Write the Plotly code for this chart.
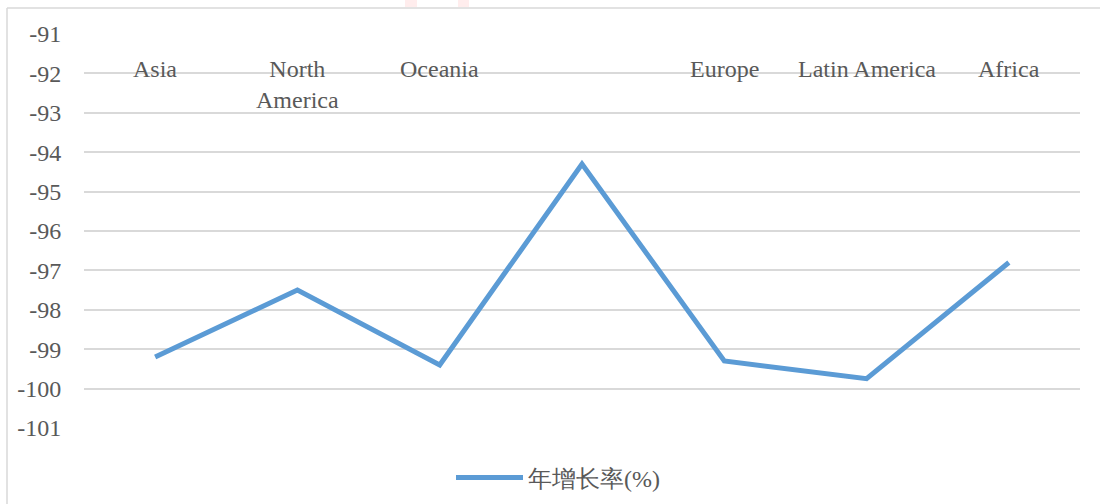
import plotly.graph_objects as go

regions = ["Asia", "North<br>America", "Oceania", " ", "Europe", "Latin America", "Africa"]
growth = [-99.2, -97.5, -99.4, -94.3, -99.3, -99.75, -96.8]
y_ticks = [-91, -92, -93, -94, -95, -96, -97, -98, -99, -100, -101]
y_tick_text = ["-91", "-92", "-93", "-94", "-95", "-96", "-97", "-98", "-99", "-100", "-101"]
series_name = "年增长率(%)"

W, H = 1100, 504
# target plot area in page pixels: x 84..1080, y 34..428
L, R, T, B = 84, 1100 - 1080, 34, 504 - 428
pw, ph = W - L - R, H - T - B
SERIF = "Liberation Serif"


def py(page_y):
    return 1 - (page_y - T) / ph


def px(page_x):
    return (page_x - L) / pw


fig = go.Figure()
fig.add_trace(go.Scatter(
    x=regions, y=growth, mode="lines", name=series_name,
    line=dict(color="#5B9BD5", width=5), showlegend=True,
))

annotations = [
    dict(x=r, y=py(54), xref="x", yref="paper", text=r, showarrow=False,
         xanchor="center", yanchor="top", font=dict(family=SERIF, size=24, color="#595959"))
    for r in regions if r.strip()
]

frame = dict(color="#D9D9D9", width=1.5)
shapes = [
    dict(type="line", xref="paper", yref="paper", x0=px(7), x1=px(1120), y0=py(8), y1=py(8), line=frame),
    dict(type="line", xref="paper", yref="paper", x0=px(7), x1=px(7), y0=py(8), y1=py(530), line=frame),
    dict(type="rect", xref="paper", yref="paper", x0=px(405), x1=px(417), y0=py(7), y1=py(-5),
         line=dict(width=0), fillcolor="rgba(255,0,0,0.07)"),
    dict(type="rect", xref="paper", yref="paper", x0=px(458), x1=px(469), y0=py(7), y1=py(-5),
         line=dict(width=0), fillcolor="rgba(255,0,0,0.07)"),
]

fig.update_layout(
    width=W, height=H,
    margin=dict(l=L, r=R, t=T, b=B, autoexpand=False),
    paper_bgcolor="white", plot_bgcolor="white",
    font=dict(family=SERIF, color="#595959", size=24),
    xaxis=dict(
        type="category", showgrid=False, zeroline=False, showline=False,
        showticklabels=False, ticks="", range=[-0.5, 6.5], automargin=False,
    ),
    yaxis=dict(
        range=[-101, -91], tickvals=y_ticks, ticktext=y_tick_text,
        showgrid=True, gridcolor="#D9D9D9", gridwidth=1.5,
        zeroline=False, showline=False, ticks="outside", ticklen=17, tickcolor="rgba(0,0,0,0)",
        tickfont=dict(family=SERIF, size=24, color="#595959"), automargin=False,
    ),
    legend=dict(
        orientation="h", x=px(558), xanchor="center", y=py(478), yanchor="middle",
        font=dict(family=SERIF, size=24, color="#595959"),
        itemwidth=67, bgcolor="rgba(0,0,0,0)",
    ),
    annotations=annotations,
    shapes=shapes,
)

fig.write_html("out.html", config={"displayModeBar": False},
               post_script="document.body.style.margin='0';")
